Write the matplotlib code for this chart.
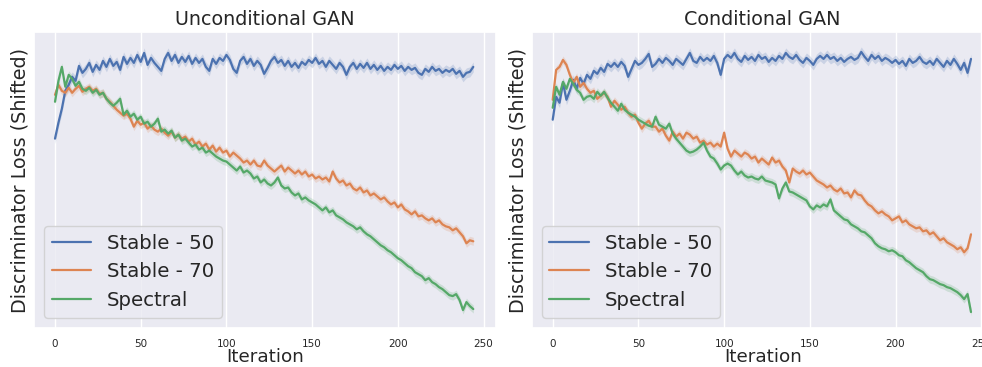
import matplotlib
matplotlib.use("Agg")
import matplotlib.pyplot as plt
import seaborn as sns
import numpy as np

# ---------------- data (loss, arbitrary shifted units) ----------------
ITERATIONS = list(range(0, 245, 2))
SERIES_NAMES = ["Stable - 50", "Stable - 70", "Spectral"]
PANEL_TITLES = ["Unconditional GAN", "Conditional GAN"]
X_TICKS = [0, 50, 100, 150, 200, 250]

uncond_stable50 = [
    190, 206, 220, 238, 244, 252, 248, 263, 256, 260,
    266, 257, 264, 259, 268, 262, 270, 263, 267, 259,
    272, 265, 271, 266, 274, 267, 276, 264, 271, 266,
    262, 258, 270, 276, 268, 274, 266, 272, 267, 273,
    265, 271, 266, 270, 262, 258, 270, 265, 271, 268,
    274, 269, 260, 256, 268, 272, 265, 270, 263, 268,
    264, 255, 261, 268, 272, 266, 269, 263, 268, 262,
    266, 261, 267, 264, 269, 266, 271, 265, 268, 262,
    268, 264, 260, 266, 262, 254, 262, 266, 260, 265,
    261, 266, 260, 264, 259, 263, 258, 262, 259, 264,
    260, 263, 258, 262, 259, 261, 256, 254, 260, 257,
    262, 258, 260, 256, 259, 257, 260, 255, 258, 252,
    256, 257, 262]
uncond_stable70 = [
    234, 244, 238, 236, 241, 236, 240, 243, 237, 240,
    242, 238, 240, 235, 236, 230, 227, 223, 219, 216,
    213, 215, 210, 202, 208, 204, 206, 200, 203, 199,
    197, 200, 196, 193, 197, 191, 194, 190, 192, 187,
    190, 184, 187, 182, 185, 179, 183, 177, 181, 176,
    178, 172, 176, 173, 170, 166, 168, 164, 168, 163,
    162, 168, 163, 160, 157, 160, 163, 157, 161, 158,
    155, 158, 154, 157, 152, 154, 150, 152, 149, 151,
    147, 157, 150, 146, 148, 143, 145, 140, 138, 141,
    136, 138, 133, 135, 132, 129, 131, 127, 124, 126,
    121, 124, 119, 117, 114, 117, 112, 113, 110, 108,
    110, 106, 108, 104, 102, 101, 98, 100, 96, 92,
    85, 88, 87]
uncond_spectral = [
    227, 248, 262, 242, 254, 250, 243, 247, 240, 238,
    241, 236, 239, 234, 236, 230, 226, 223, 226, 230,
    214, 218, 212, 215, 209, 212, 205, 207, 202, 205,
    210, 197, 199, 195, 198, 191, 194, 188, 190, 186,
    182, 184, 179, 181, 176, 178, 175, 172, 170, 168,
    167, 164, 161, 158, 162, 156, 158, 155, 150, 152,
    146, 149, 145, 143, 146, 151, 143, 140, 141, 136,
    133, 135, 129, 131, 128, 126, 124, 121, 118, 121,
    116, 118, 113, 111, 109, 106, 104, 102, 99, 101,
    97, 94, 92, 89, 86, 83, 81, 78, 76, 73,
    70, 68, 65, 62, 60, 56, 54, 52, 48, 50,
    46, 44, 41, 39, 36, 33, 32, 34, 28, 18,
    26, 22, 19]

cond_stable50 = [
    209, 232, 226, 246, 229, 238, 249, 240, 251, 245,
    254, 250, 258, 255, 261, 257, 265, 262, 266, 262,
    267, 263, 252, 260, 268, 264, 266, 270, 275, 262,
    265, 270, 266, 271, 268, 264, 270, 267, 264, 270,
    276, 268, 266, 272, 268, 271, 268, 273, 266, 254,
    270, 274, 271, 276, 270, 267, 273, 269, 272, 268,
    274, 270, 272, 267, 271, 268, 273, 270, 276, 272,
    270, 274, 269, 266, 271, 268, 264, 270, 273, 270,
    274, 270, 272, 268, 271, 267, 270, 272, 269, 271,
    277, 272, 268, 274, 270, 273, 268, 271, 269, 266,
    269, 265, 268, 263, 270, 266, 268, 272, 267, 265,
    268, 264, 270, 266, 262, 268, 264, 270, 265, 259,
    266, 256, 270]
cond_stable70 = [
    229, 259, 262, 269, 264, 254, 246, 252, 242, 246,
    240, 236, 238, 230, 233, 236, 232, 222, 228, 224,
    219, 222, 216, 212, 214, 206, 200, 205, 208, 202,
    202, 197, 200, 193, 188, 197, 192, 195, 190, 196,
    194, 190, 192, 186, 188, 184, 186, 182, 185, 182,
    196, 180, 172, 178, 175, 172, 176, 174, 170, 172,
    166, 170, 167, 164, 171, 166, 168, 162, 158, 146,
    160, 157, 155, 158, 154, 156, 152, 148, 146, 144,
    141, 143, 139, 137, 140, 135, 136, 131, 138, 134,
    133, 128, 124, 122, 118, 115, 117, 114, 112, 108,
    110, 112, 106, 108, 104, 102, 100, 101, 97, 98,
    94, 96, 92, 88, 90, 86, 84, 82, 79, 81,
    76, 80, 94]
cond_spectral = [
    221, 242, 234, 247, 240, 250, 245, 239, 236, 229,
    232, 233, 230, 237, 233, 237, 231, 226, 222, 218,
    225, 219, 216, 214, 212, 209, 207, 205, 203, 202,
    212, 204, 202, 200, 205, 195, 190, 186, 182, 178,
    176, 177, 179, 182, 186, 178, 172, 170, 165, 159,
    163, 165, 163, 158, 154, 157, 153, 151, 152, 150,
    149, 152, 148, 147, 146, 144, 130, 140, 146, 137,
    136, 134, 132, 130, 128, 122, 119, 123, 121, 124,
    122, 129, 118, 115, 112, 109, 108, 104, 102, 100,
    97, 96, 93, 90, 85, 82, 80, 79, 77, 78,
    76, 73, 72, 68, 66, 63, 60, 58, 56, 52,
    49, 48, 46, 44, 43, 41, 40, 38, 36, 33,
    29, 34, 16]

# half-width of the shaded confidence band per series
BAND_HALF_WIDTH = [5, 4, 4]

PANELS = [
    [uncond_stable50, uncond_stable70, uncond_spectral],
    [cond_stable50, cond_stable70, cond_spectral],
]

# ---------------- style ----------------
sns.set_theme(style="darkgrid")
plt.rcParams["font.family"] = ["DejaVu Sans"]
COLORS = ["#4C72B0", "#DD8452", "#55A868"]

W, H = 982, 367
fig = plt.figure(figsize=(W / 100, H / 100), dpi=100)

ax_w = 462 / W
ax_b = 1 - 328 / H
ax_h = 296 / H
lefts = [34 / W, 531.7 / W]

x_all = np.array(ITERATIONS)
for p, (title, series) in enumerate(zip(PANEL_TITLES, PANELS)):
    ax = fig.add_axes([lefts[p], ax_b, ax_w, ax_h])
    for name, vals, col, bw in zip(SERIES_NAMES, series, COLORS, BAND_HALF_WIDTH):
        v = np.array(vals, dtype=float)
        n = min(len(v), len(x_all))
        x, v = x_all[:n], v[:n]
        ax.fill_between(x, v - bw, v + bw, color=col, alpha=0.2, lw=0)
        ax.plot(x, v, color=col, lw=1.6, label=name)
    ax.set_xlim(-12.25, 257.25)
    ax.set_ylim(0, 297)
    ax.set_yticks([])
    ax.set_xticks(X_TICKS)
    ax.tick_params(axis="x", labelsize=7.5, pad=2, colors=".15")
    ax.set_title(title, fontsize=13.8, pad=5)
    ax.set_xlabel("Iteration", fontsize=13.2, labelpad=-0.5)
    ax.set_ylabel("Discriminator Loss (Shifted)", fontsize=13.8, labelpad=3)
    ax.legend(loc="lower left", fontsize=14.2)

fig.savefig("out.png", dpi=100)
